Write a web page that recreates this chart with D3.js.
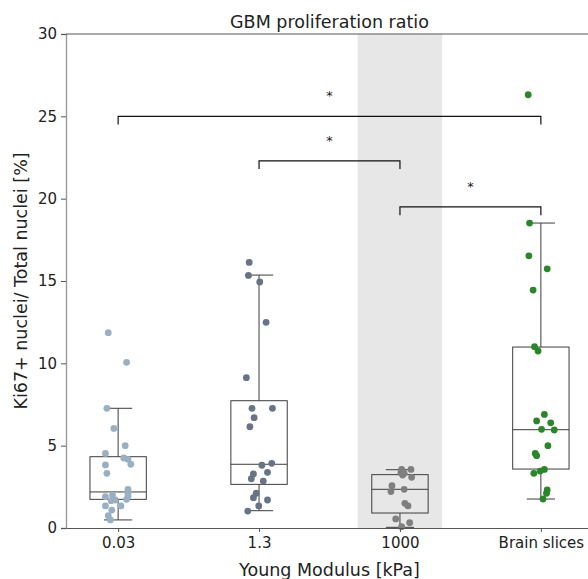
<!DOCTYPE html>
<html>
<head>
<meta charset="utf-8">
<script src="https://cdn.jsdelivr.net/npm/d3@7"></script>
<style>
  body { margin: 0; background: #fff; }
  text { font-family: "DejaVu Sans", sans-serif; fill: #222; }
</style>
</head>
<body>
<div id="chart"></div>
<script>
// Categories and colours
const categories = ["0.03", "1.3", "1000", "Brain slices"];
const pointColors = ["#9ab0c1", "#687386", "#7f7f7f", "#2b862b"];

// Points per group (value, horizontal jitter in category units)
const pts003 = [[11.86,-0.07],[10.06,0.06],[7.27,-0.08],[6.05,-0.03],[5.0,0.05],[4.53,-0.09],
  [4.25,0.04],[4.17,0.07],[3.87,0.09],[3.83,-0.09],[3.32,-0.08],[2.35,0.07],[2.11,0.07],
  [1.94,0.07],[1.9,-0.09],[2.0,-0.04],[1.66,-0.05],[1.7,-0.02],[1.74,0.06],[1.34,0.02],
  [1.34,-0.09],[1.09,-0.045],[0.75,-0.07],[0.49,-0.055]];
const pts13 = [[16.13,-0.07],[15.34,-0.075],[14.94,0.005],[12.49,0.05],[9.13,-0.09],[7.27,-0.05],
  [7.27,0.095],[6.7,-0.035],[6.15,-0.065],[3.81,0.02],[3.93,0.09],[3.28,-0.04],[3.38,0.06],
  [2.99,-0.055],[2.85,0.03],[2.11,-0.02],[1.84,-0.04],[1.7,0.06],[1.34,-0.002],[1.03,-0.08]];
const pts1000 = [[3.56,0.012],[3.56,0.078],[3.36,0.007],[3.32,0.03],[3.08,0.083],[3.22,0.019],
  [2.57,-0.057],[2.21,-0.064],[2.35,0.03],[1.5,0.035],[1.34,0.057],[0.55,-0.03],[0.32,0.069],[0.08,0.012]];
const ptsBrain = [[26.31,-0.09],[18.52,-0.08],[16.53,-0.085],[15.74,0.045],[14.45,-0.055],
  [11.01,-0.045],[10.75,-0.02],[6.9,0.025],[6.5,-0.03],[6.39,0.07],[5.99,0.005],[5.95,0.095],
  [5.0,0.05],[4.53,-0.04],[4.39,-0.03],[3.56,0.025],[3.46,-0.005],[3.32,-0.05],[2.31,0.045],
  [2.11,0.04],[1.76,0.015]];
const groups = [pts003, pts13, pts1000, ptsBrain];

// Box stats: [whisker low, Q1, median, Q3, whisker high]
const boxStats = [
  [0.49, 1.74, 2.19, 4.33, 7.27],
  [1.05, 2.65, 3.87, 7.73, 15.36],
  [0.04, 0.91, 2.35, 3.24, 3.54],
  [1.76, 3.58, 5.97, 10.99, 18.52]
];

// Significance brackets: [from, to, height]
const brackets = [[0, 3, 25.0], [1, 2, 22.3], [2, 3, 19.5]];
const yTicks = [0, 5, 10, 15, 20, 25, 30];

const W = 588, H = 579;
const margin = {top: 34, right: -5, bottom: 51, left: 66};

const svg = d3.select("#chart").append("svg")
  .attr("width", W).attr("height", H);

const x = d3.scaleLinear().domain([-0.37, 3.37]).range([margin.left, W - margin.right]);
const y = d3.scaleLinear().domain([0, 30]).range([H - margin.bottom, margin.top]);

// Shaded band behind 1000
svg.append("rect")
  .attr("x", x(1.7)).attr("width", x(2.3) - x(1.7))
  .attr("y", y(30)).attr("height", y(0) - y(30))
  .attr("fill", "#e7e7e7");

// Boxes
const boxG = svg.append("g")
  .attr("stroke", "#3c3c3c").attr("stroke-width", 1).attr("fill", "none");
boxStats.forEach((s, i) => {
  const [lo, q1, med, q3, hi] = s;
  boxG.append("rect")
    .attr("x", x(i - 0.2)).attr("width", x(i + 0.2) - x(i - 0.2))
    .attr("y", y(q3)).attr("height", y(q1) - y(q3));
  boxG.append("line").attr("x1", x(i - 0.2)).attr("x2", x(i + 0.2))
    .attr("y1", y(med)).attr("y2", y(med));
  boxG.append("line").attr("x1", x(i)).attr("x2", x(i)).attr("y1", y(q3)).attr("y2", y(hi));
  boxG.append("line").attr("x1", x(i)).attr("x2", x(i)).attr("y1", y(q1)).attr("y2", y(lo));
  boxG.append("line").attr("x1", x(i - 0.1)).attr("x2", x(i + 0.1)).attr("y1", y(hi)).attr("y2", y(hi));
  boxG.append("line").attr("x1", x(i - 0.1)).attr("x2", x(i + 0.1)).attr("y1", y(lo)).attr("y2", y(lo));
});

// Points
groups.forEach((g, i) => {
  svg.append("g").selectAll("circle")
    .data(g)
    .join("circle")
    .attr("cx", d => x(i + d[1]))
    .attr("cy", d => y(d[0]))
    .attr("r", 3.4)
    .attr("fill", pointColors[i]);
});

// Brackets
brackets.forEach(([a, b, h]) => {
  svg.append("path")
    .attr("d", `M${x(a)},${y(h - 0.5)}V${y(h)}H${x(b)}V${y(h - 0.5)}`)
    .attr("fill", "none").attr("stroke", "#111").attr("stroke-width", 1.2);
  svg.append("text")
    .attr("x", (x(a) + x(b)) / 2).attr("y", y(h) - 16)
    .attr("text-anchor", "middle").style("font-size", "13px")
    .text("*");
});

// Axes
const yAxis = svg.append("g")
  .attr("transform", `translate(${margin.left},0)`)
  .call(d3.axisLeft(y).tickValues(yTicks).tickSize(5).tickPadding(4))
  .call(g => g.selectAll(".domain").attr("stroke", "#999").attr("stroke-width", 1.4));
yAxis.selectAll("text").style("font-size", "15px").style("fill", "#222");
yAxis.selectAll(".tick line").attr("stroke", "#555");

const xAxis = svg.append("g")
  .attr("transform", `translate(0,${y(0)})`)
  .call(d3.axisBottom(x).tickValues([0, 1, 2, 3]).tickFormat(i => categories[i])
    .tickSize(4).tickSizeOuter(0).tickPadding(5))
  .call(g => g.selectAll(".domain").attr("stroke", "#555"));
xAxis.selectAll("text").style("font-size", "15px").style("fill", "#222");
xAxis.selectAll(".tick line").attr("stroke", "#555");

// Top spine
svg.append("line")
  .attr("x1", margin.left).attr("x2", W)
  .attr("y1", y(30)).attr("y2", y(30))
  .attr("stroke", "#555").attr("stroke-width", 1);

// Labels
svg.append("text")
  .attr("x", (x(-0.37) + x(3.37)) / 2).attr("y", 28)
  .attr("text-anchor", "middle").style("font-size", "17.5px")
  .text("GBM proliferation ratio");

svg.append("text")
  .attr("x", (x(-0.37) + x(3.37)) / 2).attr("y", 576)
  .attr("text-anchor", "middle").style("font-size", "17.5px")
  .text("Young Modulus [kPa]");

svg.append("text")
  .attr("transform", `translate(27,${(y(0) + y(30)) / 2})rotate(-90)`)
  .attr("text-anchor", "middle").style("font-size", "17.5px")
  .text("Ki67+ nuclei/ Total nuclei [%]");
</script>
</body>
</html>
